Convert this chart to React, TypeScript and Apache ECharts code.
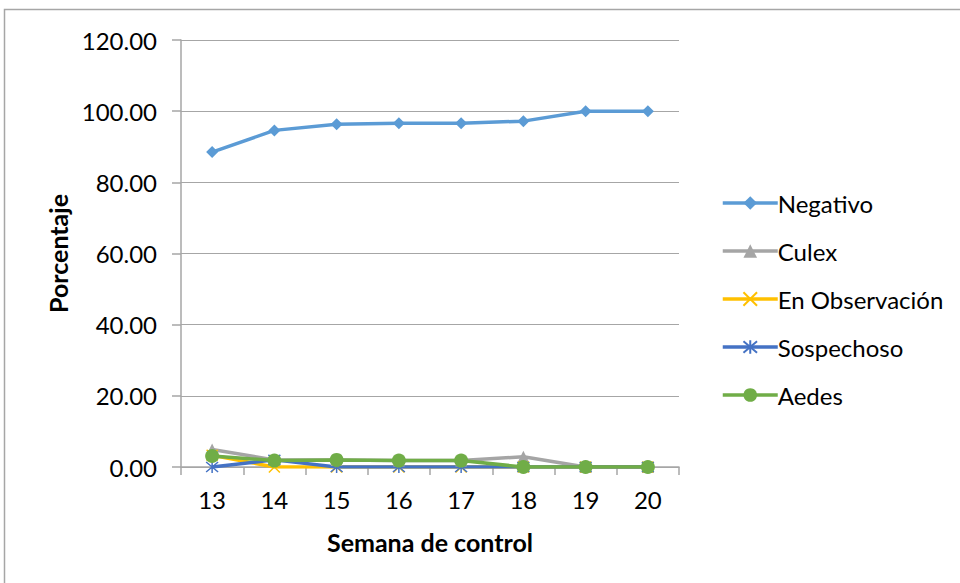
import React, { useEffect, useRef } from "react";
import * as echarts from "echarts";

const weeks = ["13", "14", "15", "16", "17", "18", "19", "20"];
const negativo = [88.5, 94.6, 96.3, 96.6, 96.6, 97.2, 100, 100];
const culex = [4.9, 2.0, 2.0, 1.8, 1.8, 2.9, 0, 0];
const enObservacion = [3.3, 0, 0, 0, 0, 0, 0, 0];
const sospechoso = [0, 2.0, 0, 0, 0, 0, 0, 0];
const aedes = [3.1, 1.8, 2.0, 1.8, 1.8, 0, 0, 0];
const yTicks = [0, 20, 40, 60, 80, 100, 120];

const FONT = "Lato";

export default function App() {
  const ref = useRef<HTMLDivElement>(null);
  useEffect(() => {
    if (!ref.current) return;
    const chart = echarts.init(ref.current, undefined, { renderer: "svg" });
    const mk = (
      name: string,
      data: number[],
      color: string,
      symbol: string,
      symbolSize: number,
      stroke: boolean
    ) => ({
      name,
      type: "line",
      data,
      symbol,
      symbolSize,
      showAllSymbol: true,
      lineStyle: { color, width: 3.5 },
      itemStyle: stroke
        ? { color, borderColor: color, borderWidth: 1.5 }
        : { color, borderWidth: 0 },
      emphasis: { disabled: true },
    });
    chart.setOption({
      animation: false,
      textStyle: { fontFamily: FONT },
      graphic: [
        {
          type: "rect",
          shape: { x: 4.5, y: 9.5, width: 970, height: 600 },
          style: { fill: "none", stroke: "#a6a6a6", lineWidth: 1.5 },
          silent: true,
        },
      ],
      grid: { left: 181, right: 281, top: 40, bottom: 116 },
      xAxis: {
        type: "category",
        data: weeks,
        boundaryGap: true,
        name: "Semana de control",
        nameLocation: "middle",
        nameGap: 62,
        nameTextStyle: { fontFamily: FONT, fontSize: 25, fontWeight: "bold", color: "#000" },
        axisLine: { lineStyle: { color: "#a6a6a6", width: 1.5 } },
        axisTick: { show: true, length: 8, alignWithLabel: false, lineStyle: { color: "#a6a6a6", width: 1.5 } },
        axisLabel: { fontFamily: FONT, fontSize: 24, color: "#000", margin: 20 },
        splitLine: { show: false },
      },
      yAxis: {
        type: "value",
        min: yTicks[0],
        max: yTicks[yTicks.length - 1],
        interval: 20,
        name: "Porcentaje",
        nameLocation: "middle",
        nameGap: 108,
        nameTextStyle: { fontFamily: FONT, fontSize: 25, fontWeight: "bold", color: "#000" },
        axisLine: { show: true, lineStyle: { color: "#a6a6a6", width: 1.5 } },
        axisTick: { show: true, length: 9, lineStyle: { color: "#a6a6a6", width: 1.5 } },
        axisLabel: {
          fontFamily: FONT,
          fontSize: 24,
          color: "#000",
          margin: 24,
          formatter: (v: number) => v.toFixed(2),
        },
        splitLine: { show: true, lineStyle: { color: "#a6a6a6", width: 1.2 } },
      },
      legend: {
        orient: "vertical",
        left: 716,
        top: 184,
        itemWidth: 55,
        itemHeight: 17,
        itemGap: 20,
        lineStyle: { width: 3.5 },
        textStyle: { fontFamily: FONT, fontSize: 24, color: "#000", lineHeight: 28, padding: [0, 0, 0, -5] },
        data: ["Negativo", "Culex", "En Observación", "Sospechoso", "Aedes"],
      },
      series: [
        mk("Negativo", negativo, "#5b9bd5", "diamond", 12, false),
        mk("Culex", culex, "#a5a5a5", "triangle", 12, false),
        mk("En Observación", enObservacion, "#ffc000", "path://M0,0L10,10M10,0L0,10", 11, true),
        mk("Sospechoso", sospechoso, "#4472c4", "path://M0,0L10,10M10,0L0,10M5,-1L5,11", 12, true),
        mk("Aedes", aedes, "#70ad47", "circle", 14, false),
      ],
    });
    return () => chart.dispose();
  }, []);
  return (
    <div
      ref={ref}
      style={{ position: "fixed", left: 0, top: 0, width: 960, height: 583, background: "#fff" }}
    />
  );
}
